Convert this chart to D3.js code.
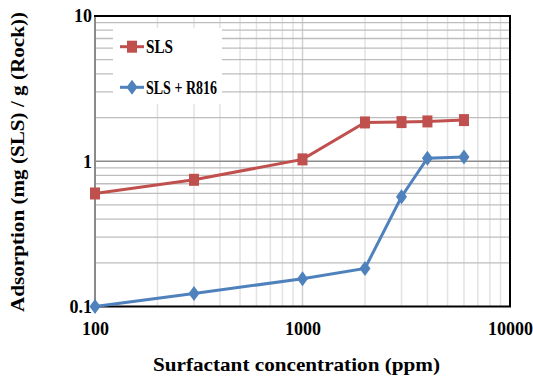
<!DOCTYPE html>
<html><head><meta charset="utf-8">
<script src="https://cdn.jsdelivr.net/npm/d3@7"></script>
<style>body{margin:0;background:#fff}svg{display:block}</style>
</head><body><svg id="c" width="533" height="380"></svg>
<script>
const concentrations = [100, 300, 1000, 2000, 3000, 4000, 6000];
const slsValues = [0.60, 0.745, 1.03, 1.85, 1.86, 1.88, 1.92];
const slsR816Values = [0.10, 0.123, 0.155, 0.183, 0.57, 1.05, 1.07];
const seriesNames = ["SLS", "SLS + R816"];
const xTickLabels = [100, 1000, 10000];
const yTickLabels = [0.1, 1, 10];

const FONT = size => `font-family:'Liberation Serif';font-weight:bold;font-size:${size}px`;
const svg = d3.select("#c");
const L = 95, R = 510, T = 16, B = 306.5;
const x = d3.scaleLog().domain([100, 10000]).range([L, R]);
const y = d3.scaleLog().domain([0.1, 10]).range([B, T]);

const g = svg.append("g");
const xMinor = [], yMinor = [];
for (let d = 100; d < 10000; d *= 10) for (let k = 2; k <= 9; k++) xMinor.push(k * d);
for (let d = 0.1; d < 9; d *= 10) for (let k = 2; k <= 9; k++) yMinor.push(+(k * d).toFixed(3));

g.selectAll(".vx").data(xMinor.concat([1000])).join("line")
  .attr("x1", d => x(d)).attr("x2", d => x(d)).attr("y1", T).attr("y2", B)
  .attr("stroke", d => d === 1000 ? "#d0d0d0" : "#e3e3e3").attr("stroke-width", 1.5);
g.selectAll(".hy").data(yMinor).join("line")
  .attr("x1", L).attr("x2", R).attr("y1", d => y(d)).attr("y2", d => y(d))
  .attr("stroke", "#bdbdbd").attr("stroke-width", 1.3);
g.append("line").attr("x1", L).attr("x2", R).attr("y1", y(1)).attr("y2", y(1))
  .attr("stroke", "#8c8c8c").attr("stroke-width", 1.3);

svg.append("rect").attr("x", 113).attr("y", 28).attr("width", 109).attr("height", 76).attr("fill", "#fff");

svg.append("line").attr("x1", L).attr("x2", L).attr("y1", T).attr("y2", B).attr("stroke", "#8a8a8a").attr("stroke-width", 2);
svg.append("line").attr("x1", L - 1).attr("x2", R + 1).attr("y1", T).attr("y2", T).attr("stroke", "#000").attr("stroke-width", 2.2);
svg.append("line").attr("x1", L - 1).attr("x2", R + 1).attr("y1", B).attr("y2", B).attr("stroke", "#000").attr("stroke-width", 2.2);
svg.append("line").attr("x1", R).attr("x2", R).attr("y1", T).attr("y2", B).attr("stroke", "#000").attr("stroke-width", 2);

const xAxis = d3.axisBottom(x).tickValues(xTickLabels).tickFormat(d3.format("d")).tickSize(0).tickPadding(0);
const xa = svg.append("g").attr("transform", `translate(0,${B})`).call(xAxis);
xa.select(".domain").remove();
xa.selectAll("text").attr("dy", null).attr("y", 28).attr("fill", "#000").attr("style", FONT(18));
const yAxis = d3.axisLeft(y).tickValues(yTickLabels).tickFormat(d => String(d)).tickSize(0).tickPadding(0);
const ya = svg.append("g").attr("transform", `translate(${L - 3},0)`).call(yAxis);
ya.select(".domain").remove();
ya.selectAll("text").attr("dy", "0.33em").attr("x", 0).attr("fill", "#000").attr("style", FONT(18));

const colors = ["#C0504D", "#4F81BD"];
const line = d3.line().x(d => x(d[0])).y(d => y(d[1]));
const series = [slsValues, slsR816Values].map(v => concentrations.map((c, i) => [c, v[i]]));

function drawMarker(sel, i, cx, cy) {
  if (i === 0) sel.append("rect").attr("x", cx - 5).attr("y", cy - 6).attr("width", 10).attr("height", 12).attr("fill", colors[0]);
  else sel.append("path").attr("d", `M${cx},${cy - 7.5}L${cx + 5.5},${cy}L${cx},${cy + 7.5}L${cx - 5.5},${cy}Z`).attr("fill", colors[1]);
}
series.forEach((s, i) => {
  svg.append("path").datum(s).attr("d", line).attr("fill", "none").attr("stroke", colors[i]).attr("stroke-width", 3);
  const mg = svg.append("g");
  s.forEach(p => drawMarker(mg, i, x(p[0]), y(p[1])));
});

const legY = [46.7, 87.3], legBase = [53, 94], legLen = [27, 71];
seriesNames.forEach((n, i) => {
  svg.append("line").attr("x1", 120).attr("x2", 144).attr("y1", legY[i]).attr("y2", legY[i]).attr("stroke", colors[i]).attr("stroke-width", 3);
  drawMarker(svg, i, 132, legY[i]);
  svg.append("text").attr("x", 146).attr("y", legBase[i]).attr("style", FONT(18)).attr("textLength", legLen[i]).attr("lengthAdjust", "spacingAndGlyphs").text(n);
});

svg.append("text").attr("x", 296.5).attr("y", 371).attr("text-anchor", "middle").attr("style", FONT(19))
  .attr("textLength", 287).attr("lengthAdjust", "spacingAndGlyphs").text("Surfactant concentration (ppm)");
svg.append("text").attr("transform", "translate(24,162) rotate(-90)").attr("text-anchor", "middle").attr("style", FONT(18))
  .attr("textLength", 300).attr("lengthAdjust", "spacingAndGlyphs").text("Adsorption (mg (SLS) / g (Rock))");
</script></body></html>
